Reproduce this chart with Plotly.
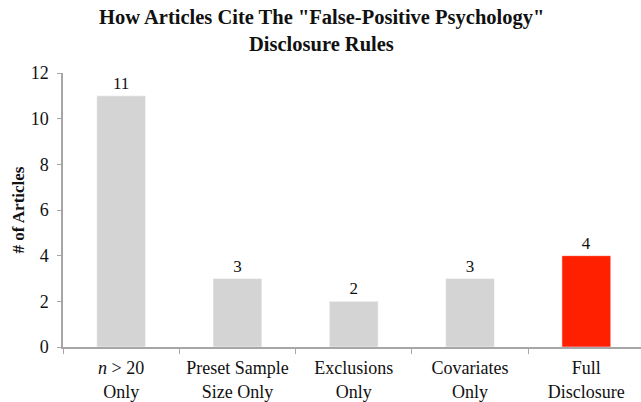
import plotly.graph_objects as go

# Citation counts per disclosure-rule category
categories = ["<i>n</i> > 20<br>Only", "Preset Sample<br>Size Only", "Exclusions<br>Only",
              "Covariates<br>Only", "Full<br>Disclosure"]
articles = [11, 3, 2, 3, 4]
bar_colors = ["#d4d4d4", "#d4d4d4", "#d4d4d4", "#d4d4d4", "#ff2000"]
title_lines = ["How Articles Cite The \"False-Positive Psychology\"", "Disclosure Rules"]

serif = "Liberation Serif, Times New Roman, serif"
axis_gray = "#a6a6a6"
ink = "#111"

fig = go.Figure(
    go.Bar(
        x=categories,
        y=articles,
        marker=dict(color=bar_colors, line=dict(color="rgba(255,255,255,0.5)", width=1)),
        width=0.42,
        text=[str(v) for v in articles],
        textposition="outside",
        textfont=dict(family=serif, size=17, color=ink),
        cliponaxis=False,
    )
)

fig.update_layout(
    width=641,
    height=402,
    margin=dict(l=63, r=0, t=73, b=55),
    paper_bgcolor="white",
    plot_bgcolor="white",
    showlegend=False,
    font=dict(family=serif, color=ink),
)

# Two-line bold title placed above the plotting area
for text, ypix in zip(title_lines, [18, 44]):
    fig.add_annotation(
        text=f"<b>{text}</b>",
        xref="paper", yref="paper",
        x=(321 - 63) / 578, y=1 + (73 - ypix) / 274,
        xanchor="center", yanchor="middle",
        showarrow=False,
        font=dict(family=serif, size=20.5, color=ink),
    )

fig.update_xaxes(
    type="category",
    range=[-0.5, 4.47],
    showline=True,
    linecolor=axis_gray,
    linewidth=1.5,
    ticks="outside",
    tickson="boundaries",
    ticklen=5,
    tickcolor=axis_gray,
    ticklabelstandoff=4,
    tickfont=dict(family=serif, size=18, color=ink),
    showgrid=False,
    zeroline=False,
)

fig.update_yaxes(
    range=[0, 12],
    dtick=2,
    showline=True,
    linecolor=axis_gray,
    linewidth=1.5,
    ticks="outside",
    ticklen=4,
    tickcolor=axis_gray,
    ticklabelstandoff=5,
    tickfont=dict(family=serif, size=18, color=ink),
    showgrid=False,
    zeroline=False,
    title=dict(text="<b># of Articles</b>", font=dict(family=serif, size=17, color=ink), standoff=2),
)

fig.write_html("out.html")
